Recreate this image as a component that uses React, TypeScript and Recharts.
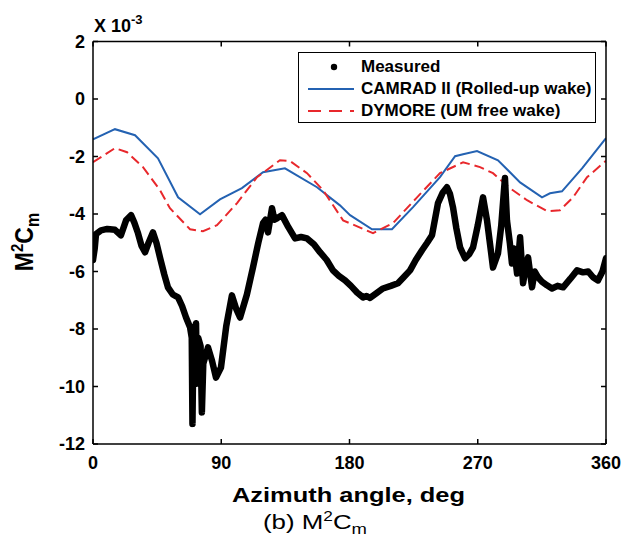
import React from 'react';
import { ComposedChart, Line, XAxis, YAxis, Legend } from 'recharts';

const FONT = '"Liberation Sans", Arial, Helvetica, sans-serif';

const xTicks = [0, 90, 180, 270, 360];
const yTicks = [-12, -10, -8, -6, -4, -2, 0, 2];

const seriesNames = ['Measured', 'CAMRAD II (Rolled-up wake)', 'DYMORE (UM free wake)'];

// values in units of 1e-3
const measuredAzimuth = [
  0, 1.2, 2.1, 5.6, 10, 15.4, 19.6, 23.2, 26.7, 29, 31.6, 34, 36.5, 39, 42.1, 44.5, 47, 50, 52.6, 56,
  59.7, 62.5, 65.3, 68.1, 69.3, 69.8, 70.5, 72.3, 72.9, 73.8, 75.5, 76.4, 77.4, 80.7, 83.5, 86.3, 89.8, 93.5, 97.5, 100.5,
  103.2, 108, 112.3, 116, 119.3, 121, 122.8, 125.6, 127.3, 129.1, 132.6, 137, 141.8, 146, 150.2, 155, 159.3, 164, 168.4, 172.5,
  176.9, 181, 185.3, 189.5, 192, 194.4, 199, 203.5, 209, 214, 218, 222.5, 226.5, 230.9, 234.5, 237.9, 242.1, 245.5, 248.4, 250.5,
  252.6, 255, 257.6, 261.1, 264, 266.7, 270, 273.7, 276.5, 278.5, 280.7, 284.2, 286.5, 288.4, 289.1, 290.5, 292.5, 294, 295.5, 297.6,
  299.7, 301.8, 303.5, 305.3, 308.1, 310, 312.3, 315, 318.6, 322.1, 326, 329.9, 335, 339.7, 343.9, 347.5, 350.9, 354.4, 357.5, 360,
];
const measuredM2Cm = [
  -5.6, -5.2, -4.7, -4.57, -4.52, -4.55, -4.74, -4.22, -4.04, -4.3, -4.67, -5.1, -5.33, -5.0, -4.64, -5.0, -5.51, -6.1, -6.55, -6.8,
  -6.9, -7.2, -7.6, -7.94, -8.3, -11.3, -8.2, -7.8, -9.9, -8.3, -8.6, -10.9, -9.2, -8.64, -9.1, -9.69, -9.34, -7.9, -6.83, -7.3,
  -7.6, -6.8, -5.85, -5.0, -4.32, -4.2, -4.64, -3.8, -4.2, -4.15, -4.04, -4.45, -4.85, -4.8, -4.85, -5.05, -5.33, -5.6, -5.96, -6.15,
  -6.31, -6.5, -6.73, -6.9, -6.85, -6.92, -6.75, -6.59, -6.5, -6.41, -6.2, -5.96, -5.6, -5.26, -5.0, -4.74, -3.62, -3.25, -3.07, -3.3,
  -3.76, -4.5, -5.16, -5.54, -5.4, -5.16, -4.4, -3.42, -4.22, -5.0, -5.86, -5.37, -4.4, -3.17, -2.75, -4.22, -5.0, -5.72, -5.2, -6.07,
  -4.81, -6.41, -5.9, -5.51, -6.55, -6.0, -6.2, -6.35, -6.48, -6.59, -6.5, -6.55, -6.25, -5.96, -6.03, -6.0, -6.2, -6.31, -6.0, -5.54,
];

const camradAzimuth = [0, 15.4, 29.5, 45.6, 59.7, 75.1, 89.1, 104.5, 119.3, 134.7, 157.2, 173.3, 180.4, 195.8, 209.8, 224.6, 243.5, 254.1, 259.7, 269.5, 284.2, 299.7, 315.1, 320.7, 329.1, 343.2, 360];
const camradM2Cm = [-1.4, -1.05, -1.26, -2.06, -3.42, -4.01, -3.49, -3.1, -2.55, -2.41, -3.07, -3.7, -4.04, -4.53, -4.53, -3.76, -2.72, -1.99, -1.92, -1.81, -2.13, -2.9, -3.42, -3.28, -3.21, -2.41, -1.36];

const dymoreAzimuth = [0, 15.4, 23.9, 35.1, 47, 54, 68.1, 77.2, 87, 101.1, 115.1, 131.2, 138.3, 150.2, 161.4, 175.5, 196.5, 210.5, 227.4, 243.5, 259.7, 271.6, 280.7, 292.6, 304.6, 318.6, 327.7, 336.9, 346.7, 360];
const dymoreM2Cm = [-2.2, -1.71, -1.85, -2.37, -3.17, -3.8, -4.53, -4.6, -4.39, -3.62, -2.72, -2.13, -2.16, -2.58, -3.17, -4.22, -4.67, -4.32, -3.42, -2.58, -2.2, -2.37, -2.58, -3.1, -3.52, -3.9, -3.87, -3.42, -2.72, -2.15];

const toRows = (xs: number[], ys: number[]) => xs.map((a, i) => ({ a, v: ys[i] }));
const measuredData = toRows(measuredAzimuth, measuredM2Cm);
const camradData = toRows(camradAzimuth, camradM2Cm);
const dymoreData = toRows(dymoreAzimuth, dymoreM2Cm);

const BLUE = '#2462b2';
const RED = '#e8282c';

const tickStyle = { fill: '#000', fontSize: 18, fontWeight: 'bold' as const, fontFamily: FONT };

const renderLegend = () => (
  <div
    style={{
      width: 298,
      height: 71,
      boxSizing: 'border-box',
      border: '1.5px solid #000',
      background: '#fff',
      fontFamily: FONT,
      fontWeight: 'bold',
      fontSize: 17,
      position: 'relative',
    }}
  >
    {seriesNames.map((name, i) => (
      <div key={name} style={{ position: 'absolute', left: 8, top: 3 + i * 22, height: 22, display: 'flex', alignItems: 'center' }}>
        <svg width={48} height={22} style={{ display: 'block' }}>
          {i === 0 && <circle cx={27} cy={11} r={3.2} fill="#000" />}
          {i === 1 && <line x1={1} y1={11} x2={47} y2={11} stroke={BLUE} strokeWidth={2} />}
          {i === 2 && <line x1={1} y1={11} x2={47} y2={11} stroke={RED} strokeWidth={2} strokeDasharray="13 8" />}
        </svg>
        <span style={{ marginLeft: 6, whiteSpace: 'nowrap', color: '#000' }}>{name}</span>
      </div>
    ))}
  </div>
);

export default function App() {
  return (
    <div style={{ position: 'absolute', left: 0, top: 0, width: 625, height: 546, background: '#fff', fontFamily: FONT }}>
      <ComposedChart width={625} height={546} margin={{ top: 40, right: 18, bottom: 72, left: 33 }}>
        <XAxis
          xAxisId="b"
          dataKey="a"
          type="number"
          domain={[0, 360]}
          ticks={xTicks}
          interval={0}
          orientation="bottom"
          height={30}
          tickSize={-5}
          tickMargin={17}
          stroke="#000"
          strokeWidth={1.5}
          tick={tickStyle}
          allowDataOverflow
        />
        <XAxis
          xAxisId="t"
          dataKey="a"
          type="number"
          domain={[0, 360]}
          ticks={xTicks}
          interval={0}
          orientation="top"
          height={1.5}
          tickSize={-5}
          stroke="#000"
          strokeWidth={1.5}
          tickFormatter={() => ''}
          allowDataOverflow
        />
        <YAxis
          yAxisId="l"
          type="number"
          domain={[-12, 2]}
          ticks={yTicks}
          interval={0}
          width={60}
          tickSize={-5}
          tickMargin={13}
          stroke="#000"
          strokeWidth={1.5}
          tick={tickStyle}
          allowDataOverflow
        />
        <YAxis
          yAxisId="r"
          orientation="right"
          type="number"
          domain={[-12, 2]}
          ticks={yTicks}
          interval={0}
          width={1}
          tickSize={-5}
          stroke="#000"
          strokeWidth={1.5}
          tickFormatter={() => ''}
          allowDataOverflow
        />
        <Line
          xAxisId="b"
          yAxisId="l"
          data={camradData}
          dataKey="v"
          name={seriesNames[1]}
          type="linear"
          stroke={BLUE}
          strokeWidth={2}
          dot={false}
          isAnimationActive={false}
        />
        <Line
          xAxisId="b"
          yAxisId="l"
          data={dymoreData}
          dataKey="v"
          name={seriesNames[2]}
          type="linear"
          stroke={RED}
          strokeWidth={2}
          strokeDasharray="10 5"
          dot={false}
          isAnimationActive={false}
        />
        <Line
          xAxisId="b"
          yAxisId="l"
          data={measuredData}
          dataKey="v"
          name={seriesNames[0]}
          type="linear"
          stroke="#000"
          strokeWidth={6.5}
          strokeLinejoin="round"
          strokeLinecap="round"
          dot={false}
          isAnimationActive={false}
        />
        <Legend
          layout="vertical"
          align="center"
          verticalAlign="middle"
          content={renderLegend}
          wrapperStyle={{ position: 'absolute', left: 298, top: 52, width: 298, height: 71 }}
        />
      </ComposedChart>
      <svg
        width={625}
        height={546}
        style={{ position: 'absolute', left: 0, top: 0, pointerEvents: 'none' }}
      >
        <text x={94} y={32} fontFamily={FONT} fontWeight="bold" fontSize={18} fill="#000">
          X 10<tspan dy={-8} fontSize={13}>-3</tspan>
        </text>
        <g transform="translate(33 242) rotate(-90) scale(1 1.1)">
          <text x={0} y={0} textAnchor="middle" fontFamily={FONT} fontWeight="bold" fontSize={23} fill="#000">
            M<tspan dy={-9} fontSize={15}>2</tspan>
            <tspan dy={9}>C</tspan>
            <tspan dy={5} fontSize={16}>m</tspan>
          </text>
        </g>
        <text
          x={232}
          y={502}
          textLength={233}
          lengthAdjust="spacingAndGlyphs"
          fontFamily={FONT}
          fontWeight="bold"
          fontSize={21}
          fill="#000"
        >
          Azimuth angle, deg
        </text>
        <text
          x={263}
          y={529}
          textLength={104}
          lengthAdjust="spacingAndGlyphs"
          fontFamily={FONT}
          fontSize={21}
          fill="#000"
        >
          (b) M<tspan dy={-8} fontSize={14}>2</tspan>
          <tspan dy={8}>C</tspan>
          <tspan dy={5} fontSize={15}>m</tspan>
        </text>
      </svg>
    </div>
  );
}
